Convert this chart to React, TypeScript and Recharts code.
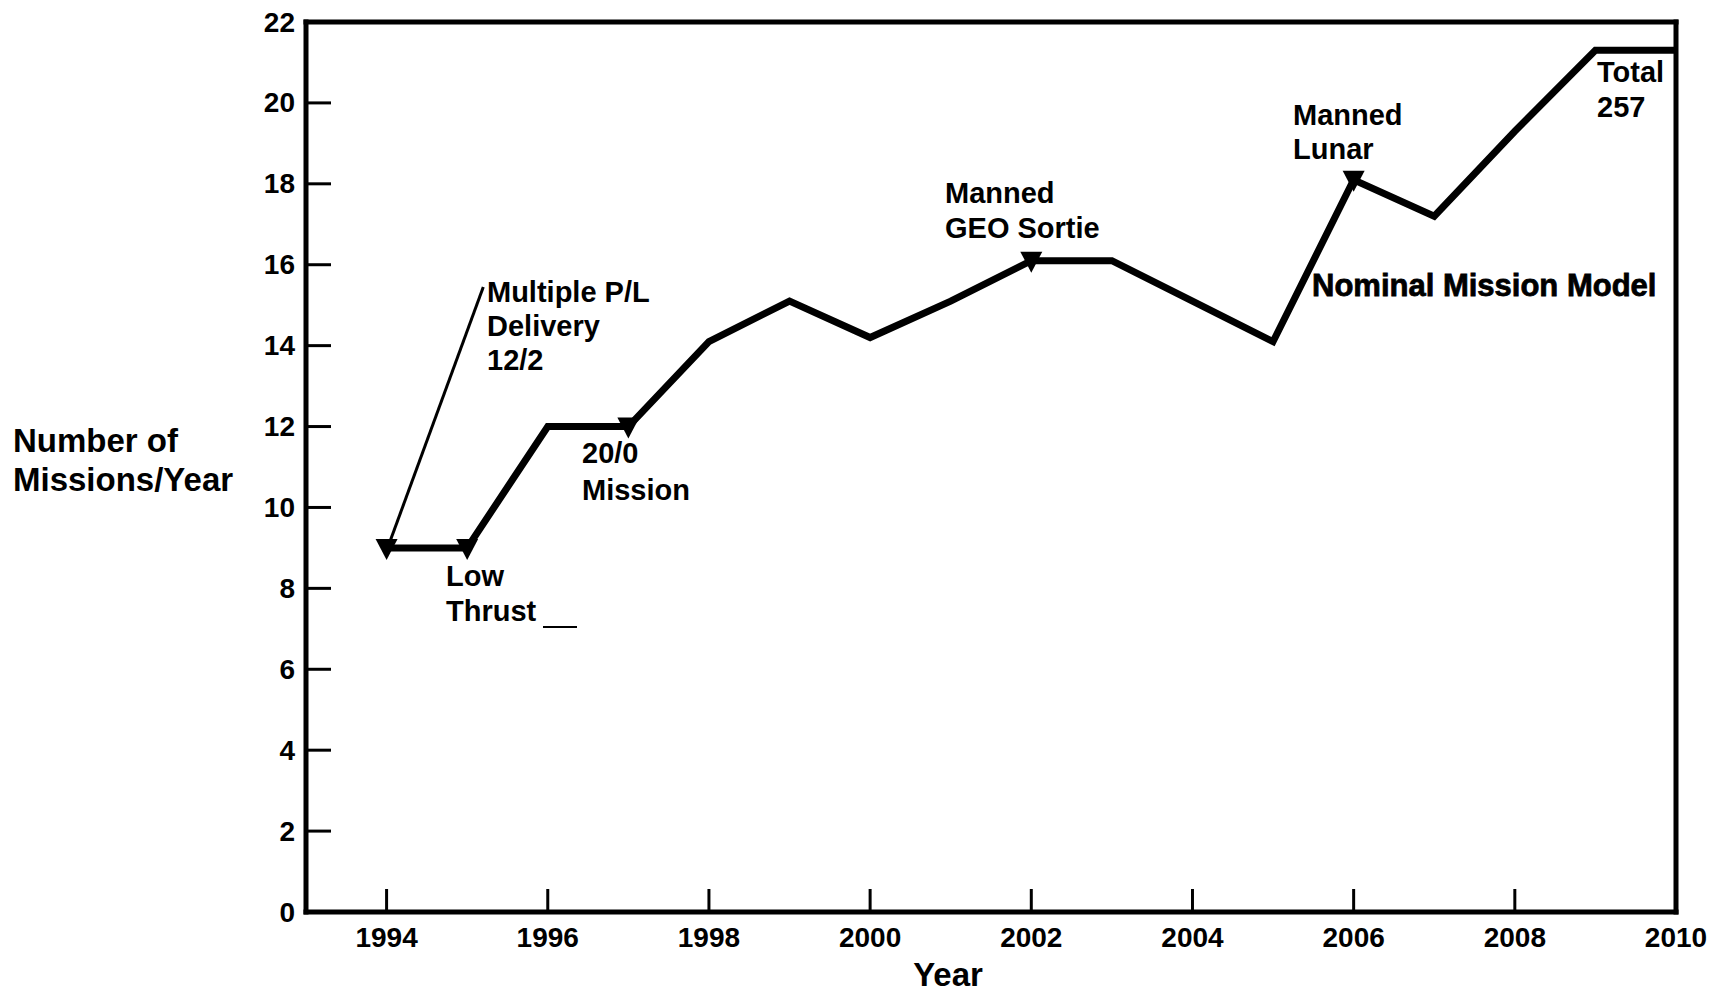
// Nominal Mission Model line chart
import { LineChart, Line, XAxis, YAxis, ReferenceLine } from "recharts";

// data
const years = [1994, 1995, 1996, 1997, 1998, 1999, 2000, 2001, 2002, 2003, 2004, 2005, 2006, 2007, 2008, 2009, 2010];
const missions = [9, 9, 12, 12, 14.1, 15.1, 14.2, 15.1, 16.1, 16.1, 15.1, 14.1, 18.1, 17.2, 19.3, 21.3, 21.3];
const markerYears = [1994, 1995, 1997, 2002, 2006];

const xTicks = [1994, 1996, 1998, 2000, 2002, 2004, 2006, 2008, 2010];
const yTicks = [0, 2, 4, 6, 8, 10, 12, 14, 16, 18, 20, 22];

// leader line from "Multiple P/L Delivery" to the 1994 point
const leaderFrom = { x: 1995.2, y: 15.45 };
const leaderTo = { x: 1994.05, y: 9.2 };

const data = years.map((year, i) => ({ year, missions: missions[i] }));

const FONT = "'Liberation Sans', Arial, Helvetica, sans-serif";
const W = 1733;
const H = 995;

// tick marks point into the plot, labels outside
const XTick = (props: any) => {
  const { x, y, payload } = props;
  const edge = payload.value === 2010;
  return (
    <g>
      {!edge && <line x1={x} x2={x} y1={y} y2={y - 23} stroke="#000" strokeWidth={3} />}
      <text x={x} y={y + 25} textAnchor="middle" dominantBaseline="central"
        fontFamily={FONT} fontWeight="bold" fontSize={28} fill="#000">
        {payload.value}
      </text>
    </g>
  );
};

const YTick = (props: any) => {
  const { x, y, payload } = props;
  const edge = payload.value === 0 || payload.value === 22;
  return (
    <g>
      {!edge && <line x1={x} x2={x + 25} y1={y} y2={y} stroke="#000" strokeWidth={3} />}
      <text x={x - 11} y={y} textAnchor="end" dominantBaseline="central"
        fontFamily={FONT} fontWeight="bold" fontSize={28} fill="#000">
        {payload.value}
      </text>
    </g>
  );
};

// downward triangles on the milestone years only
const renderDot = (props: any) => {
  const { cx, cy, payload, index } = props;
  if (!markerYears.includes(payload.year)) return <g key={`dot-${index}`} />;
  return (
    <path key={`dot-${index}`}
      d={`M${cx - 11},${cy - 9} L${cx + 11},${cy - 9} L${cx},${cy + 12} Z`}
      fill="#000" />
  );
};

// annotation text (pixel positions)
const notes = [
  { x: 487, y: 292, text: "Multiple P/L" },
  { x: 487, y: 326, text: "Delivery" },
  { x: 487, y: 360, text: "12/2" },
  { x: 582, y: 453, text: "20/0" },
  { x: 582, y: 490, text: "Mission" },
  { x: 446, y: 576, text: "Low" },
  { x: 446, y: 611, text: "Thrust" },
  { x: 945, y: 193, text: "Manned" },
  { x: 945, y: 228, text: "GEO Sortie" },
  { x: 1293, y: 115, text: "Manned" },
  { x: 1293, y: 149, text: "Lunar" },
  { x: 1597, y: 72, text: "Total" },
  { x: 1597, y: 107, text: "257" },
];

export default function App() {
  return (
    <div style={{ position: "absolute", left: 0, top: 0, width: W, height: H, background: "#fff" }}>
      <LineChart width={W} height={H} data={data}
        margin={{ top: 22, right: 57, bottom: 82, left: 305 }}>
        <XAxis type="number" dataKey="year" domain={[1993, 2010]} ticks={xTicks}
          interval={0} height={1} tickSize={0} tickMargin={0} tickLine={false}
          axisLine={{ stroke: "#000", strokeWidth: 5, strokeLinecap: "square" }}
          tick={<XTick />} />
        <YAxis type="number" domain={[0, 22]} ticks={yTicks}
          interval={0} width={1} tickSize={0} tickMargin={0} tickLine={false}
          axisLine={{ stroke: "#000", strokeWidth: 5, strokeLinecap: "square" }}
          tick={<YTick />} />
        {/* top and right frame */}
        <ReferenceLine y={22} stroke="#000" strokeWidth={5} strokeLinecap="square" />
        <ReferenceLine x={2010} stroke="#000" strokeWidth={5} strokeLinecap="square" />
        <ReferenceLine segment={[leaderFrom, leaderTo]} stroke="#000" strokeWidth={3} ifOverflow="visible" />
        <Line type="linear" dataKey="missions" stroke="#000" strokeWidth={7}
          dot={renderDot} activeDot={false} isAnimationActive={false} />
      </LineChart>

      <svg width={W} height={H} style={{ position: "absolute", left: 0, top: 0, pointerEvents: "none" }}>
        <g fontFamily={FONT} fill="#000">
          {notes.map((n, i) => (
            <text key={i} x={n.x} y={n.y} dominantBaseline="central" fontSize={29} fontWeight="bold">
              {n.text}
            </text>
          ))}
          <line x1={543} x2={577} y1={627} y2={627} stroke="#000" strokeWidth={2} />
          <text x={1312} y={285} dominantBaseline="central" fontSize={31} fontWeight="bold"
            stroke="#000" strokeWidth={0.8}>
            Nominal Mission Model
          </text>
          <text x={13} y={440} dominantBaseline="central" fontSize={33} fontWeight="bold">Number of</text>
          <text x={13} y={479} dominantBaseline="central" fontSize={33} fontWeight="bold">Missions/Year</text>
          <text x={948} y={974} textAnchor="middle" dominantBaseline="central" fontSize={33} fontWeight="bold">Year</text>
        </g>
      </svg>
    </div>
  );
}
